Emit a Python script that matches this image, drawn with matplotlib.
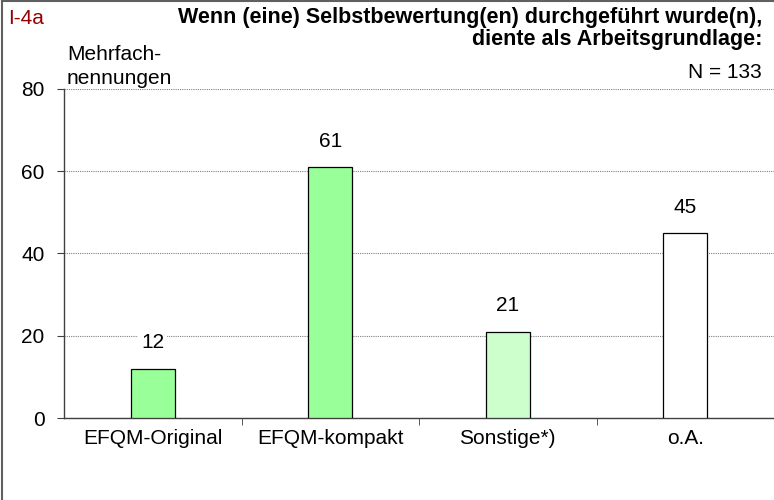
import matplotlib.pyplot as plt
from matplotlib.lines import Line2D

plt.rcParams["font.family"] = ["Liberation Sans", "DejaVu Sans"]

categories = ["EFQM-Original", "EFQM-kompakt", "Sonstige*)", "o.A."]
values = [12, 61, 21, 45]
bar_colors = ["#99ff99", "#99ff99", "#ccffcc", "#ffffff"]
yticks = [0, 20, 40, 60, 80]

fs = 15

fig = plt.figure(figsize=(7.74, 5.0), dpi=100)
ax = fig.add_axes([64 / 774, 82 / 500, 710 / 774, 329 / 500])

x = list(range(len(categories)))
ax.bar(x, values, width=0.25, color=bar_colors, edgecolor="black", linewidth=0.9, zorder=3)

for xi, v in zip(x, values):
    ax.text(xi, v + 6.3, str(v), ha="center", va="center", fontsize=fs, zorder=4,
            bbox=dict(facecolor="white", edgecolor="none", pad=2))

ax.set_xlim(-0.5, len(categories) - 0.5)
ax.set_ylim(0, 80)
ax.set_yticks(yticks)
ax.set_yticklabels([str(t) for t in yticks], fontsize=fs)
ax.yaxis.grid(True, linestyle=(0, (1, 1)), color="#808080", linewidth=0.8, zorder=0)
ax.set_xticks(x)
ax.set_xticklabels(categories, fontsize=fs)
ax.set_xticks([i + 0.5 for i in x[:-1]], minor=True)
ax.tick_params(axis="x", which="major", length=0, pad=8)
ax.tick_params(axis="x", which="minor", length=5, direction="out", color="#404040")
ax.tick_params(axis="y", length=5, direction="out", color="#404040", pad=9)

for s in ["top", "right"]:
    ax.spines[s].set_visible(False)
for s in ["left", "bottom"]:
    ax.spines[s].set_color("#404040")
    ax.spines[s].set_linewidth(1.0)

fig.text(8 / 774, 1 - 18 / 500, "I-4a", color="#990000", fontsize=fs, va="center", ha="left")
fig.text(762 / 774, 1 - 18 / 500, "Wenn (eine) Selbstbewertung(en) durchgeführt wurde(n),",
         fontsize=15.5, fontweight="bold", ha="right", va="center")
fig.text(762 / 774, 1 - 39 / 500, "diente als Arbeitsgrundlage:",
         fontsize=15.5, fontweight="bold", ha="right", va="center")
fig.text(762 / 774, 1 - 73 / 500, "N = 133", fontsize=fs, ha="right", va="center")
fig.text(67 / 774, 1 - 55 / 500, "Mehrfach-", fontsize=fs, ha="left", va="center")
fig.text(67 / 774, 1 - 78 / 500, "nennungen", fontsize=fs, ha="left", va="center")

# Rahmen um die Grafik (nur links und oben sichtbar)
fig.add_artist(Line2D([2 / 774, 2 / 774], [0, 1 - 1 / 500], color="#606060", linewidth=1.5))
fig.add_artist(Line2D([2 / 774, 1], [1 - 1 / 500, 1 - 1 / 500], color="#606060", linewidth=1.5))

fig.savefig("out.png", dpi=100)
